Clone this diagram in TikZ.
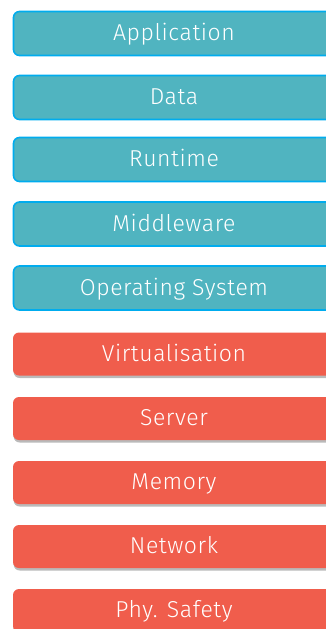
\documentclass[tikz,border=0pt]{standalone}
\usepackage{fontspec}
\setmainfont{Fira Sans Light}[LetterSpace=2.5]
\usepackage{tikz}
\usetikzlibrary{shapes,positioning,shadows}
\usepackage{xcolor}
\definecolor{stackteal}{RGB}{80,180,192}
\definecolor{stackblue}{RGB}{0,172,238}
\definecolor{stackred}{RGB}{240,93,76}
\tikzstyle{softlayer} = [rectangle, rounded corners=6pt, minimum width=321pt, minimum height=44pt, text centered, draw=stackblue, fill=stackteal, line width=1.6pt, text=white, font=\fontsize{23}{27}\selectfont, text depth=0.5ex]
\tikzstyle{hardlayer} = [rectangle, rounded corners=6pt, minimum width=322pt, minimum height=43pt, text centered, fill=stackred, text=white, font=\fontsize{23}{27}\selectfont, text depth=0.5ex, drop shadow={shadow xshift=0.6pt, shadow yshift=-2.5pt, opacity=0.45, fill=black!60}]

\begin{document}
\begin{tikzpicture}[x=1pt, y=-1pt]
\useasboundingbox (0,0) rectangle (326,629);

% Software layers
\node[softlayer] (app) at (174,33.5) {Application};
\node[softlayer] (data) at (174,97.5) {Data};
\node[softlayer] (runtime) at (174,159.5) {Runtime};
\node[softlayer] (middle) at (174,224) {Middleware};
\node[softlayer] (os) at (174,288) {Operating System};

% Infrastructure layers
\node[hardlayer] (virt) at (174,354) {Virtualisation};
\node[hardlayer] (server) at (174,418.5) {Server};
\node[hardlayer] (memory) at (174,482.5) {Memory};
\node[hardlayer] (network) at (174,546.5) {Network};
\node[hardlayer] (physafety) at (174,610.5) {Phy. Safety};
\end{tikzpicture}
\end{document}
